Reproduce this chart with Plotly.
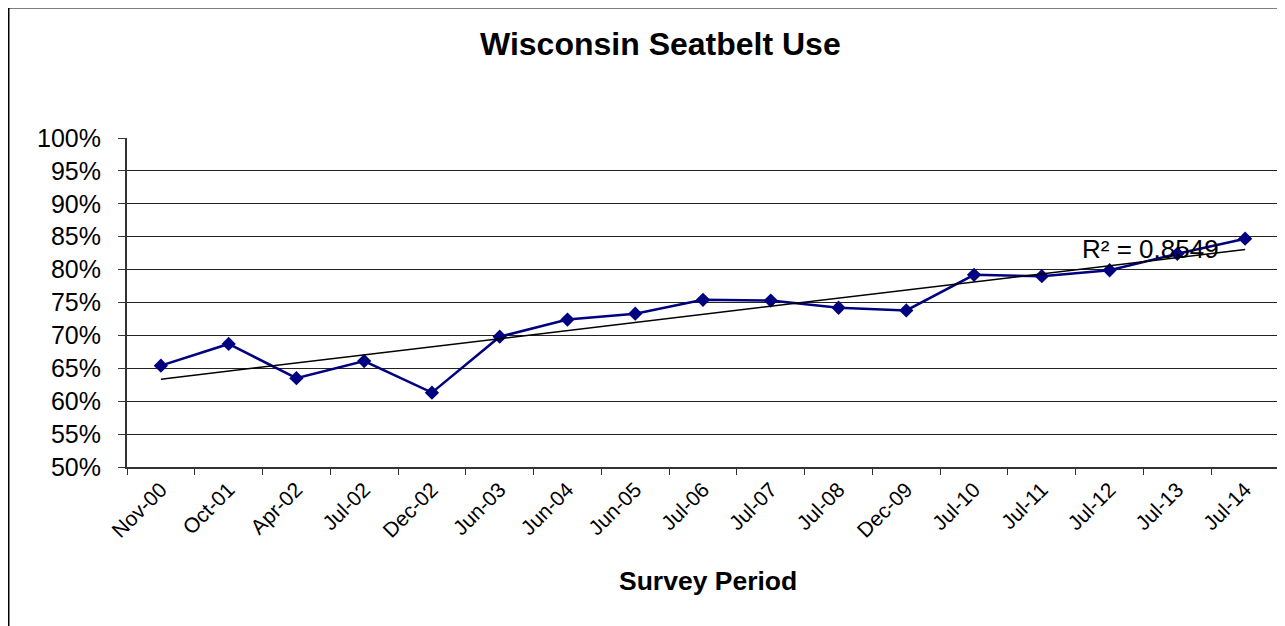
import numpy as np
import plotly.graph_objects as go

periods = ["Nov-00", "Oct-01", "Apr-02", "Jul-02", "Dec-02", "Jun-03", "Jun-04", "Jun-05",
           "Jul-06", "Jul-07", "Jul-08", "Dec-09", "Jul-10", "Jul-11", "Jul-12", "Jul-13", "Jul-14"]
usage = [65.4, 68.7, 63.5, 66.1, 61.3, 69.8, 72.4, 73.3,
         75.4, 75.3, 74.2, 73.8, 79.2, 79.0, 79.9, 82.4, 84.7]
r2_label = "R² = 0.8549"
title_text = "Wisconsin Seatbelt Use"
x_title = "Survey Period"

idx = np.arange(len(usage))
slope, intercept = np.polyfit(idx, usage, 1)
trend = slope * idx + intercept

FONT = "Liberation Sans, Arial, sans-serif"

# page offset (body margin) of 8px is accounted for below
L, T, PW, PH = 119, 130, 1152, 329
W, H = 1277, 618

def px(x):
    return (x - 8 - L) / PW

def py(y):
    return (T + PH - (y - 8)) / PH

fig = go.Figure()
fig.add_trace(go.Scatter(
    x=periods, y=usage, mode="lines+markers",
    line=dict(color="#000080", width=2.5),
    marker=dict(symbol="diamond", size=11, color="#000080"),
    showlegend=False, hoverinfo="x+y"))
fig.add_trace(go.Scatter(
    x=periods, y=trend, mode="lines",
    line=dict(color="#000000", width=1.5),
    showlegend=False, hoverinfo="skip"))

fig.update_layout(
    width=W, height=H,
    margin=dict(l=L, r=W - L - PW, t=T, b=H - T - PH),
    paper_bgcolor="white", plot_bgcolor="white",
    font=dict(family=FONT, color="black"),
    xaxis=dict(
        type="category", tickson="boundaries", ticks="outside", ticklen=6,
        tickcolor="#333", tickwidth=1, tickangle=-45,
        tickfont=dict(size=21, family=FONT, color="black"),
        showgrid=False, showline=True, linecolor="#333", linewidth=2,
        zeroline=False, range=[-0.5, len(periods) - 0.5]),
    yaxis=dict(
        range=[50, 100], dtick=5, tick0=50, ticksuffix="%",
        ticks="outside", ticklen=7, tickcolor="#333", ticklabelstandoff=12,
        tickfont=dict(size=25, family=FONT, color="black"),
        showgrid=True, gridcolor="#222", gridwidth=1,
        showline=True, linecolor="#333", linewidth=2, zeroline=False),
    shapes=[
        dict(type="line", xref="paper", yref="paper", x0=1, x1=1, y0=0, y1=1,
             line=dict(color="#888", width=2)),
        dict(type="rect", xref="paper", yref="paper",
             x0=px(8.75), x1=px(1300), y0=py(640), y1=py(7.75),
             line=dict(color="black", width=1.5)),
    ],
    annotations=[
        dict(text=f"<b>{title_text}</b>", xref="paper", yref="paper",
             x=px(660), y=py(44), showarrow=False,
             xanchor="center", yanchor="middle", font=dict(size=32, family=FONT)),
        dict(text=f"<b>{x_title}</b>", xref="paper", yref="paper",
             x=px(708), y=py(581), showarrow=False,
             xanchor="center", yanchor="middle", font=dict(size=26.5, family=FONT)),
        dict(text=r2_label, xref="paper", yref="paper",
             x=px(1150), y=py(249), showarrow=False,
             xanchor="center", yanchor="middle", font=dict(size=26, family=FONT)),
    ],
)

fig.write_html("out.html")
